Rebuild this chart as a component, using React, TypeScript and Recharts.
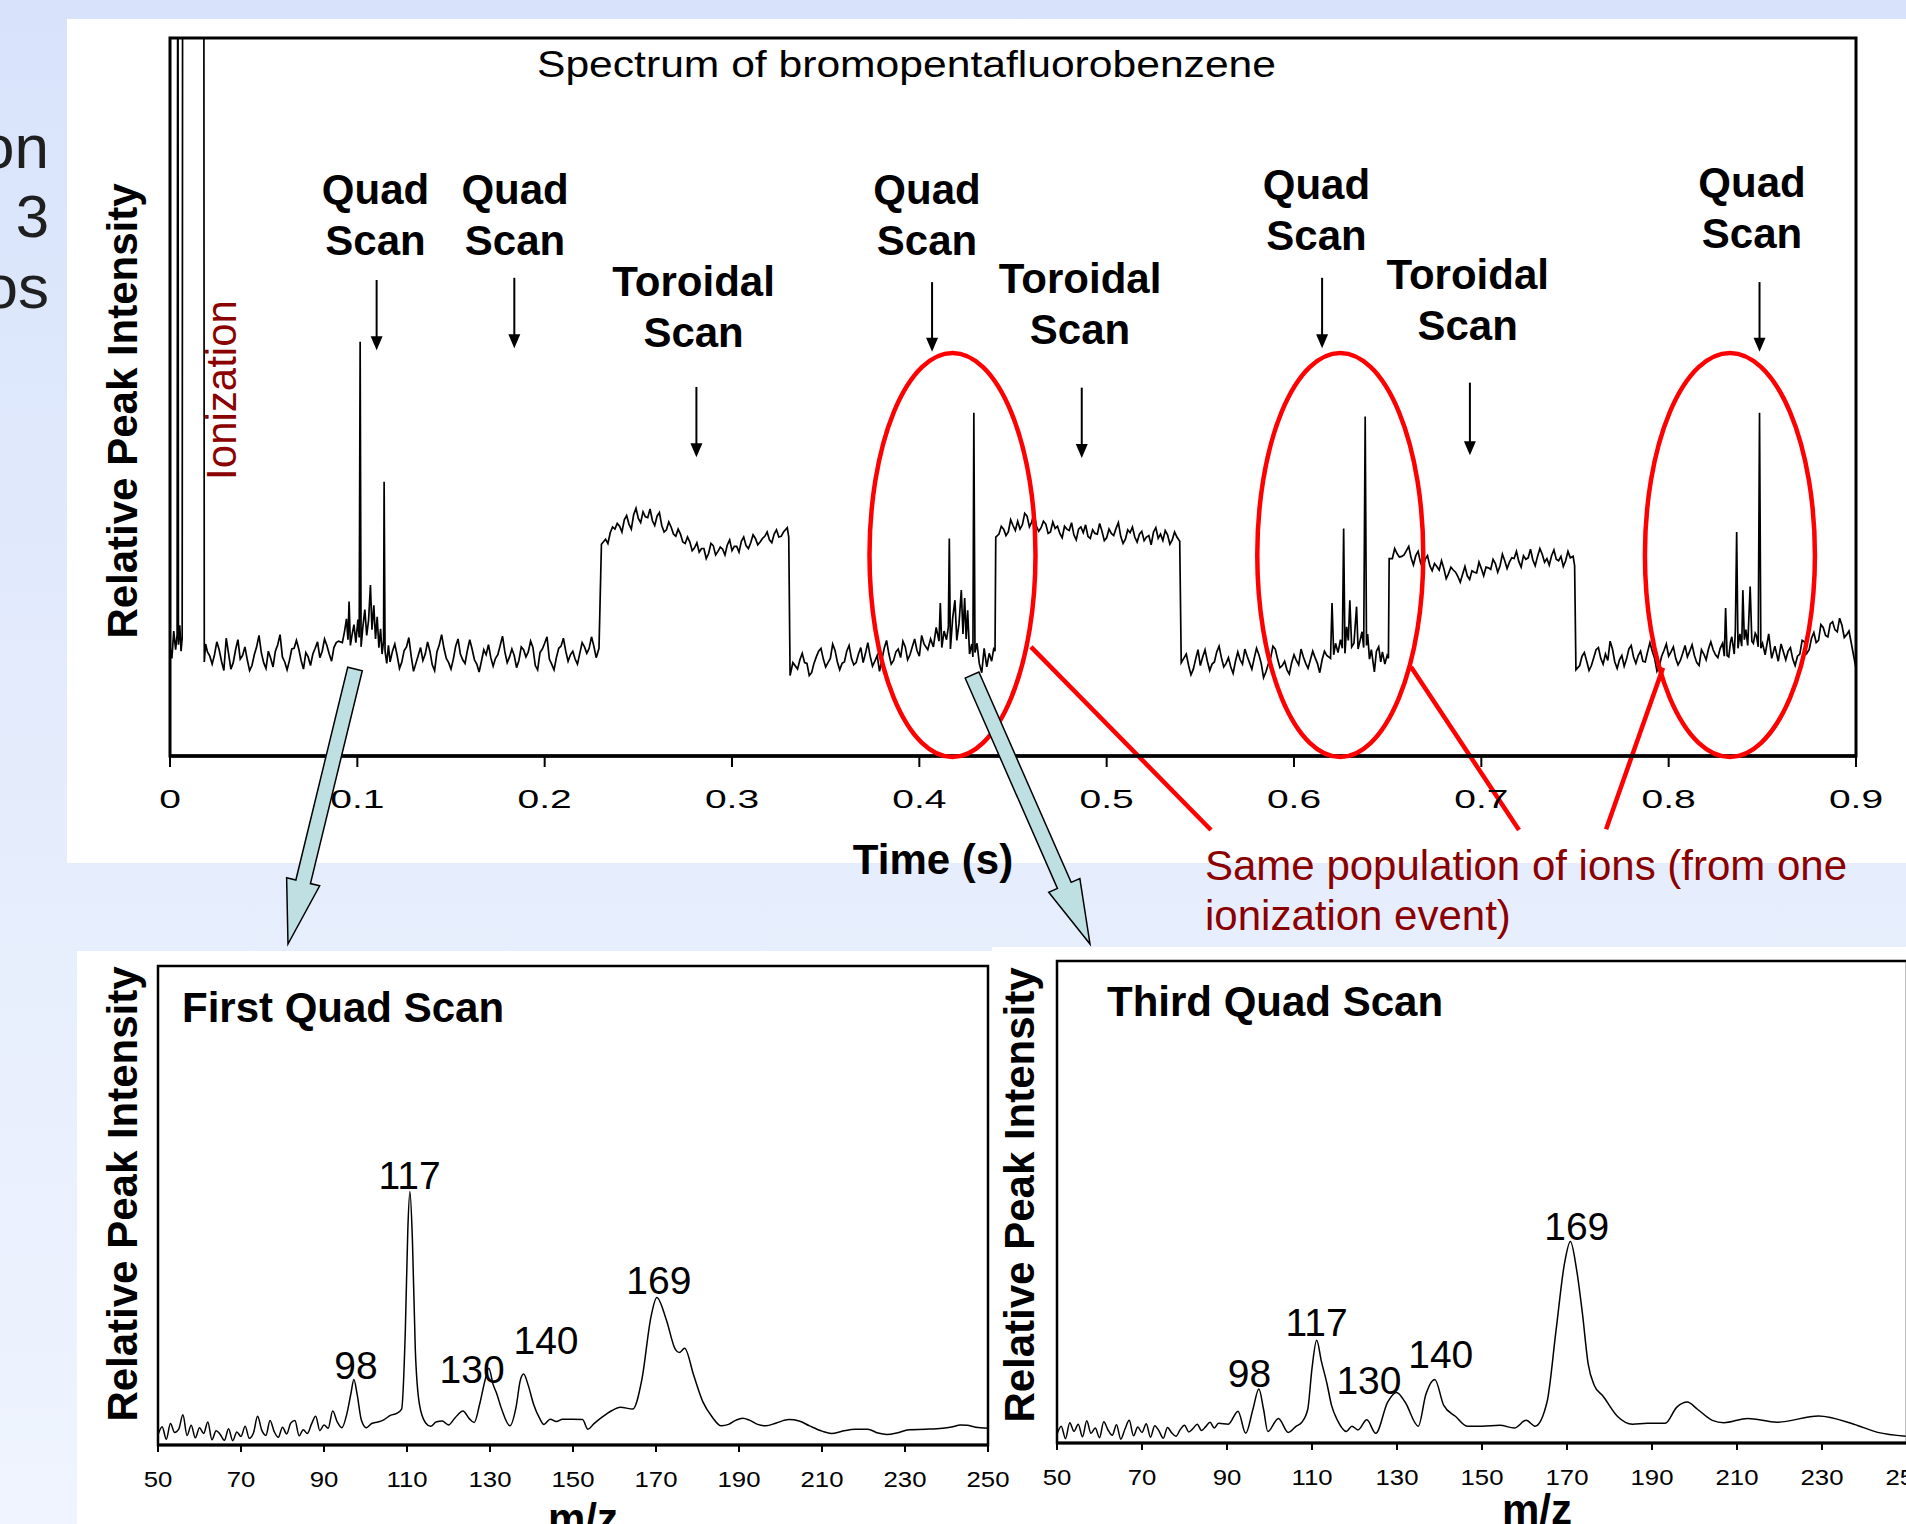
import React from "react";
import {
  LineChart,
  Line,
  XAxis,
  YAxis,
  ReferenceArea,
  ReferenceDot,
  ReferenceLine,
} from "recharts";

const FONT = '"Liberation Sans", Arial, Helvetica, sans-serif';
const DARK_RED = "#8B0000";
const STEP = 0.0025;
const HALF = 0.00125;

type Pt = [number, number];

// ---------- time trace (0 = bottom of frame, 100 = top of frame) ----------
const ionization: Pt[] = [
  [0, 15.2], [0.001, 13.6], [0.002, 17.4], [0.003, 14.8], [0.0038, 16.9],
  [0.0042, 140], [0.0045, 15.5], [0.0052, 18.2], [0.0059, 14.6], [0.0065, 16.4],
  [0.0068, 140], [0.018, 140], [0.0183, 13.1], [0.019, 15.6],
];
// each flat stretch: samples every 2.5 ms plus the samples in between
const baseline1 = [14.5, 12.8, 15.9, 13.2, 16.4, 12.1, 14.8, 13.5, 15.2, 11.9, 14.1, 16.8, 13.0, 14.6, 12.4, 15.5, 13.8, 12.0, 14.9, 16.1, 13.3, 14.4, 12.6, 15.0, 13.7, 16.3, 14.2, 15.1, 16.0];
const baseline1b = [13.9, 14.1, 14.8, 11.9, 14.3, 13.0, 16.2, 14.0, 13.4, 12.6, 15.2, 14.4, 12.2, 13.6, 14.6, 16.9, 13.1, 13.3, 15.0, 14.9, 12.1, 13.8, 14.2, 15.9, 14.6, 15.4, 13.2, 15.8];
const quadScan1: Pt[] = [
  [0.092, 15.8], [0.0932, 17.4], [0.0942, 19.1], [0.095, 16.2], [0.0956, 21.5], [0.0963, 15.4],
  [0.0972, 16.9], [0.0982, 18.3], [0.0992, 15.8], [0.1003, 19.0], [0.101, 16.5], [0.1015, 57.7],
  [0.102, 15.2], [0.103, 18.1], [0.104, 20.4], [0.105, 16.8], [0.106, 18.9], [0.107, 23.8],
  [0.1078, 17.6], [0.1088, 21.0], [0.1097, 16.3], [0.1106, 19.4], [0.1115, 15.1], [0.1124, 17.7],
  [0.1132, 14.2], [0.114, 16.0], [0.1143, 38.2], [0.1148, 14.6], [0.1157, 12.9], [0.1166, 15.4],
];
const baseline2 = [13.1, 15.6, 12.2, 14.7, 16.5, 11.8, 14.0, 13.3, 15.9, 12.7, 14.5, 16.9, 13.6, 12.1, 15.3, 14.2, 12.9, 16.2, 13.4, 11.7, 14.8, 15.5, 12.5, 14.1, 16.7, 13.0, 14.9, 12.3, 15.2, 13.8, 16.0, 12.6, 14.4, 15.7, 13.5, 12.0, 15.0, 16.4, 13.2, 14.6, 12.8, 15.8, 14.3, 16.6, 13.7];
const baseline2b = [14.6, 14.0, 13.1, 15.2, 13.9, 12.9, 15.1, 14.2, 14.6, 11.9, 15.5, 15.0, 13.0, 13.5, 16.3, 13.4, 14.7, 14.9, 12.8, 13.2, 14.1, 13.7, 13.6, 15.4, 14.5, 13.8, 14.0, 13.3, 14.8, 14.5, 15.1, 12.0, 14.9, 16.6, 12.8, 13.7, 15.3, 14.6, 14.1, 13.5, 14.3, 15.2, 15.0, 15.3];
const stepUp1: Pt[] = [[0.229, 15.0], [0.2303, 29.5]];
const toroidal1 = [30.2, 31.1, 31.6, 32.0, 32.9, 32.3, 33.6, 33.1, 34.0, 33.2, 32.8, 33.4, 32.1, 31.5, 31.9, 30.6, 30.9, 29.6, 29.8, 29.0, 28.4, 28.9, 28.2, 29.3, 28.5, 28.8, 29.4, 28.6, 29.2, 29.9, 29.3, 29.7, 30.3, 29.8, 30.6, 30.1, 30.9, 30.5, 31.2];
const toroidal1b = [29.6, 31.9, 32.4, 31.2, 33.5, 31.6, 34.5, 32.5, 33.3, 34.4, 32.1, 33.9, 31.2, 32.6, 30.9, 31.6, 29.8, 30.5, 28.6, 29.7, 28.9, 27.5, 29.6, 28.0, 29.1, 28.0, 30.1, 29.2, 28.4, 30.5, 28.9, 30.8, 29.4, 30.3, 31.2, 29.7, 31.5, 30.6];
const stepDown1: Pt[] = [[0.3295, 31.8], [0.3303, 30.5], [0.331, 11.2], [0.3325, 13.0]];
const baseline3 = [12.1, 14.3, 12.9, 11.6, 13.8, 15.0, 12.4, 13.6, 14.7, 12.0, 13.1, 15.4, 12.7, 14.2, 13.0, 15.8, 12.5, 14.0, 13.4, 16.1, 12.8, 14.5, 13.7, 15.2, 14.1, 16.3, 13.9, 15.6];
const baseline3b = [13.4, 13.0, 11.2, 12.9, 14.6, 13.5, 13.0, 15.6, 13.1, 12.9, 14.6, 13.6, 13.0, 15.1, 14.3, 13.9, 13.2, 11.8, 15.0, 14.2, 13.3, 14.9, 16.0, 13.4, 15.2, 14.7, 16.8];
const quadScan3: Pt[] = [
  [0.4045, 14.8], [0.406, 16.3], [0.4075, 15.2], [0.409, 17.9], [0.4105, 16.0], [0.4112, 21.3],
  [0.412, 15.1], [0.4132, 17.4], [0.4145, 16.2], [0.4155, 18.0], [0.416, 30.3], [0.4166, 14.9],
  [0.4178, 19.2], [0.419, 21.7], [0.42, 16.1], [0.4212, 18.5], [0.4224, 23.1], [0.4233, 17.0],
  [0.4242, 22.0], [0.425, 16.3], [0.4258, 20.3], [0.4268, 14.2], [0.428, 15.6], [0.4286, 13.8],
  [0.4291, 47.8], [0.4297, 14.4], [0.4308, 15.7], [0.432, 12.9], [0.4333, 11.6], [0.4346, 15.0],
  [0.436, 12.4], [0.4373, 14.3], [0.4386, 13.2], [0.4398, 15.1], [0.4404, 14.6], [0.4408, 30.5],
];
const toroidal2 = [30.9, 31.6, 31.2, 32.1, 32.7, 32.2, 33.4, 32.6, 32.0, 31.8, 32.3, 31.2, 31.7, 31.0, 32.0, 31.4, 30.8, 31.6, 31.1, 30.6, 31.5, 30.9, 31.3, 30.4, 31.0, 31.7, 30.6, 30.2, 31.1, 30.5, 30.9, 30.0, 30.7, 31.2, 30.3, 30.0, 30.8, 30.1, 30.5];
const toroidal2b = [32.0, 30.7, 32.9, 31.4, 31.6, 33.8, 31.9, 33.9, 31.3, 32.7, 31.0, 32.6, 32.0, 30.4, 31.6, 32.5, 30.1, 31.9, 32.2, 30.3, 31.0, 32.4, 30.0, 31.6, 30.7, 32.5, 29.6, 31.5, 31.9, 29.8, 31.3, 30.5, 29.4, 31.8, 30.9, 31.4, 29.5, 31.2];
const stepDown2: Pt[] = [[0.539, 29.9], [0.5398, 13.0]];
const baseline4 = [14.2, 11.3, 13.5, 12.6, 14.8, 11.9, 13.1, 15.3, 12.4, 13.7, 11.5, 14.5, 12.8, 13.9, 12.1, 15.0, 12.9, 11.7, 13.6, 14.9, 12.3, 13.2, 11.4, 14.1, 12.7, 13.8, 12.2, 14.6, 12.9, 13.4, 14.0];
const baseline4b = [12.6, 12.1, 14.8, 13.8, 13.2, 12.8, 14.5, 13.7, 12.9, 12.4, 13.2, 13.4, 14.9, 13.0, 13.6, 14.1, 10.9, 12.8, 15.3, 13.5, 12.6, 12.0, 13.0, 13.3, 14.9, 12.9, 13.4, 13.7, 11.6, 14.6];
const quadScan4: Pt[] = [
  [0.6195, 13.6], [0.6203, 21.3], [0.6212, 14.1], [0.6222, 15.7], [0.6235, 14.4], [0.6248, 16.2],
  [0.6258, 15.0], [0.6265, 31.7], [0.6272, 14.3], [0.6281, 18.0], [0.629, 16.1], [0.6298, 21.7],
  [0.6308, 15.2], [0.632, 15.7], [0.6334, 20.8], [0.6342, 14.9], [0.6352, 16.0], [0.6363, 17.3],
  [0.6372, 15.1], [0.638, 47.3], [0.6387, 15.4], [0.6393, 17.0], [0.6403, 13.5], [0.6413, 14.8],
  [0.6429, 11.7], [0.644, 14.6], [0.6452, 15.2], [0.6463, 13.1], [0.6472, 14.5], [0.6485, 12.8],
  [0.6497, 14.0], [0.6504, 13.6], [0.6508, 27.5],
];
const toroidal3 = [27.5, 28.2, 27.8, 28.6, 27.6, 27.9, 27.0, 27.4, 26.5, 26.8, 25.9, 26.1, 25.4, 25.9, 25.0, 25.3, 25.1, 25.8, 25.5, 26.1, 26.3, 26.0, 26.8, 26.5, 27.2, 27.0, 27.5, 27.1, 27.9, 27.6, 27.3, 27.8, 28.1, 27.5, 27.9, 27.4, 27.8, 27.2, 27.6];
const toroidal3b = [28.9, 27.7, 28.0, 29.2, 26.6, 28.5, 26.1, 27.9, 25.8, 26.4, 27.2, 24.7, 26.3, 25.6, 24.2, 26.4, 24.6, 25.6, 27.0, 25.1, 26.2, 27.4, 25.6, 28.1, 26.1, 27.6, 28.5, 26.3, 27.4, 28.8, 26.5, 28.9, 27.0, 26.6, 28.7, 27.2, 26.4, 28.5];
const stepDown3: Pt[] = [[0.749, 27.8], [0.7498, 26.5], [0.7505, 12.0]];
const baseline5 = [12.6, 14.4, 11.9, 13.7, 15.1, 12.8, 13.3, 14.9, 12.2, 14.0, 13.5, 15.4, 12.9, 14.6, 13.1, 15.8, 13.6, 12.5, 14.7, 13.9, 15.2, 12.7, 14.3, 13.8, 15.5, 13.0, 14.8, 13.4, 15.9, 14.1, 15.0];
const baseline5b = [13.9, 13.2, 12.6, 14.8, 13.6, 14.2, 16.0, 13.1, 13.4, 12.5, 14.9, 13.8, 14.0, 13.2, 14.5, 14.6, 11.8, 13.9, 15.6, 14.5, 13.6, 13.3, 15.4, 14.6, 14.0, 12.6, 14.2, 14.9, 14.8, 13.7];
const quadScan5: Pt[] = [
  [0.8288, 15.7], [0.8297, 13.9], [0.8304, 20.6], [0.8312, 14.0], [0.8321, 13.8], [0.833, 15.9],
  [0.8337, 16.6], [0.835, 14.2], [0.8356, 17.5], [0.8363, 31.2], [0.837, 15.0], [0.838, 17.0],
  [0.839, 15.3], [0.8396, 23.1], [0.8404, 16.2], [0.8412, 17.6], [0.8422, 15.4], [0.8435, 23.6],
  [0.8444, 16.0], [0.8452, 15.7], [0.8462, 17.1], [0.8468, 16.8], [0.8478, 15.2], [0.8485, 47.8],
  [0.8492, 15.0], [0.8501, 15.7], [0.8515, 14.1], [0.8534, 17.0], [0.855, 13.6], [0.8567, 15.3],
  [0.8585, 13.2], [0.86, 15.6],
];
const tail = [13.4, 15.1, 12.6, 14.2, 15.9, 14.8, 17.2, 16.1, 17.9, 16.6, 18.7, 17.3, 18.2, 16.9, 15.7];
const tailb = [14.6, 13.5, 13.9, 16.1, 14.3, 16.4, 15.8, 18.3, 16.8, 18.4, 17.6, 19.2, 16.5, 17.4];
const traceEnd: Pt[] = [[0.9, 12.2]];

const sampled = (t0: number, values: number[]): Pt[] =>
  values.map((v, i) => [Number((t0 + i * STEP).toFixed(5)), v]);

const trace = [
  ...ionization,
  ...sampled(0.02, baseline1),
  ...sampled(0.02 + HALF, baseline1b),
  ...quadScan1,
  ...sampled(0.1175, baseline2),
  ...sampled(0.1175 + HALF, baseline2b),
  ...stepUp1,
  ...sampled(0.2325, toroidal1),
  ...sampled(0.2325 + HALF, toroidal1b),
  ...stepDown1,
  ...sampled(0.335, baseline3),
  ...sampled(0.335 + HALF, baseline3b),
  ...quadScan3,
  ...sampled(0.4425, toroidal2),
  ...sampled(0.4425 + HALF, toroidal2b),
  ...stepDown2,
  ...sampled(0.5425, baseline4),
  ...sampled(0.5425 + HALF, baseline4b),
  ...quadScan4,
  ...sampled(0.6525, toroidal3),
  ...sampled(0.6525 + HALF, toroidal3b),
  ...stepDown3,
  ...sampled(0.7525, baseline5),
  ...sampled(0.7525 + HALF, baseline5b),
  ...quadScan5,
  ...sampled(0.8625, tail),
  ...sampled(0.8625 + HALF, tailb),
  ...traceEnd,
]
  .sort((a, b) => a[0] - b[0])
  .map(([t, v]) => ({ t, v }));

const TIME_TICKS = [0, 0.1, 0.2, 0.3, 0.4, 0.5, 0.6, 0.7, 0.8, 0.9];

// ---------- mass spectra ----------
const firstNoise = [2.1, 3.8, 1.2, 4.5, 2.6, 3.3, 6.3, 2.0, 4.1, 1.5, 3.6, 2.4, 4.8, 1.1, 3.0, 2.2, 1.0, 3.4, 0.9, 2.7, 1.8, 3.9, 1.4, 2.5, 6.0, 3.1, 2.0, 5.1, 2.8, 1.6, 3.7, 2.3, 4.6, 5.1, 1.9, 3.2, 2.4, 4.4, 6.0, 3.0, 4.2, 3.5];
const firstPeaks: Pt[] = [
  [92.1, 7.1], [93.2, 4.8], [94.3, 3.6], [95.5, 6.5], [96.5, 10.8], [97.2, 13.7], [98.0, 10.5],
  [99.0, 5.2], [100.2, 3.6], [101.5, 4.5], [103.0, 4.8], [104.5, 5.3], [106.0, 6.2], [107.5, 6.6],
  [108.7, 7.5], [109.6, 24.0], [110.2, 45.0], [110.7, 52.9], [111.3, 43.0], [112.0, 20.0],
  [113.0, 8.5], [114.5, 4.6], [115.7, 3.9], [117.0, 4.8], [118.5, 5.0], [120.0, 4.2], [121.5, 5.6],
  [123.5, 7.1], [125.0, 5.5], [126.2, 4.7], [127.5, 8.5], [128.8, 13.5], [129.7, 16.0],
  [130.8, 12.5], [131.5, 11.0], [132.8, 7.5], [134.8, 4.0], [136.3, 8.0], [137.3, 13.5],
  [138.1, 14.8], [139.2, 12.5], [140.5, 8.5], [142.0, 5.5], [143.0, 4.3], [144.5, 5.4],
  [146.0, 4.9], [147.5, 5.4], [150.0, 5.4], [152.3, 5.3], [153.6, 3.3], [155.0, 4.4], [157.0, 5.8],
  [159.2, 7.1], [161.4, 7.9], [164.4, 7.5], [166.6, 13.7], [168.8, 26.8], [170.2, 30.8],
  [172.5, 26.1], [174.7, 19.9], [175.6, 19.3], [176.9, 20.2], [179.1, 14.5], [181.3, 9.0],
  [183.5, 5.9], [185.7, 4.0], [187.5, 4.3], [189.3, 5.2], [190.9, 5.6], [192.5, 5.2], [194.5, 4.3],
  [196.5, 4.0], [199.0, 4.6], [202.0, 5.3], [204.5, 5.0], [207.0, 4.0], [210.0, 2.9], [212.3, 2.4],
  [215.0, 2.9], [218.0, 3.3], [221.0, 3.3], [223.5, 2.5], [225.6, 2.2], [228.0, 2.5], [231.0, 3.2],
  [235.0, 3.3], [239.0, 3.5], [241.5, 3.8], [243.3, 4.2], [245.0, 4.1], [247.0, 3.7], [250.0, 3.5],
];
const thirdNoise = [1.8, 3.5, 0.9, 4.2, 2.4, 3.9, 1.3, 4.6, 2.0, 3.1, 1.1, 4.4, 2.7, 1.6, 3.8, 0.8, 2.9, 4.7, 1.5, 3.3, 2.2, 4.0, 1.2, 3.6, 2.5, 1.0, 3.2, 2.1, 1.4, 2.8, 3.7, 2.3, 3.0, 3.9, 2.6, 3.4, 4.3, 3.1, 4.1];
const thirdPeaks: Pt[] = [
  [90.3, 3.9], [92.6, 6.6], [94.4, 2.0], [96.1, 7.0], [97.5, 11.2], [98.6, 7.0], [99.6, 2.4],
  [102.1, 5.1], [104.4, 2.2], [106.3, 3.5], [107.6, 4.3], [109.0, 7.0], [110.0, 15.5],
  [111.1, 21.3], [112.2, 17.0], [113.5, 12.4], [114.6, 7.8], [116.0, 4.7], [118.1, 2.4],
  [119.4, 3.5], [120.8, 2.7], [122.9, 4.8], [125.0, 2.0], [127.8, 8.5], [129.9, 10.5],
  [131.9, 8.5], [135.0, 3.5], [136.8, 10.1], [138.9, 13.2], [141.0, 7.8], [143.8, 5.5],
  [146.5, 3.5], [150.0, 3.5], [154.2, 3.7], [157.6, 3.1], [160.4, 4.7], [162.5, 3.5], [165.3, 8.5],
  [167.4, 23.2], [169.4, 37.2], [170.8, 41.8], [172.2, 36.3], [173.6, 27.1], [175.0, 16.3],
  [176.4, 12.0], [178.5, 9.7], [181.9, 5.5], [185.4, 3.9], [188.9, 4.1], [193.1, 4.1],
  [195.8, 7.4], [198.3, 8.5], [200.7, 7.0], [204.2, 4.7], [206.9, 4.2], [212.5, 5.1],
  [219.4, 4.3], [229.2, 5.6], [237.5, 3.9], [243.1, 2.2], [249.7, 1.4],
];

const toSpectrum = (noise: number[], peaks: Pt[]) =>
  [...noise.map((v, i) => [50 + i, v] as Pt), ...peaks]
    .sort((a, b) => a[0] - b[0])
    .map(([mz, v]) => ({ mz, v }));

const firstScan = toSpectrum(firstNoise, firstPeaks);
const thirdScan = toSpectrum(thirdNoise, thirdPeaks);

const MZ_TICKS = [50, 70, 90, 110, 130, 150, 170, 190, 210, 230, 250];

const firstLabels = [
  { text: "98", mz: 97.7, v: 13.7 },
  { text: "117", mz: 110.6, v: 53.5 },
  { text: "130", mz: 125.7, v: 12.9 },
  { text: "140", mz: 143.5, v: 19.0 },
  { text: "169", mz: 170.7, v: 31.6 },
];
const thirdLabels = [
  { text: "98", mz: 95.3, v: 11.6 },
  { text: "117", mz: 111.1, v: 22.1 },
  { text: "130", mz: 123.4, v: 10.1 },
  { text: "140", mz: 140.3, v: 15.5 },
  { text: "169", mz: 172.3, v: 42.2 },
];

// ---------- annotations on the time trace ----------
const scanLabels = [
  { t: 0.1097, v: 76.9, lines: ["Quad", "Scan"] },
  { t: 0.1842, v: 76.9, lines: ["Quad", "Scan"] },
  { t: 0.2795, v: 64.1, lines: ["Toroidal", "Scan"] },
  { t: 0.4041, v: 76.9, lines: ["Quad", "Scan"] },
  { t: 0.4858, v: 64.5, lines: ["Toroidal", "Scan"] },
  { t: 0.612, v: 77.6, lines: ["Quad", "Scan"] },
  { t: 0.6927, v: 65.0, lines: ["Toroidal", "Scan"] },
  { t: 0.8445, v: 77.9, lines: ["Quad", "Scan"] },
];
const scanArrows = [
  { t: 0.1103, from: 66.3, to: 56.5 },
  { t: 0.1838, from: 66.6, to: 56.8 },
  { t: 0.281, from: 51.4, to: 41.6 },
  { t: 0.4068, from: 66.0, to: 56.3 },
  { t: 0.4867, from: 51.3, to: 41.5 },
  { t: 0.615, from: 66.6, to: 56.8 },
  { t: 0.6939, from: 52.0, to: 41.9 },
  { t: 0.8485, from: 66.0, to: 56.3 },
];
const rings = [
  { t: 0.4177, v: 28, rx: 83 },
  { t: 0.6247, v: 28, rx: 83 },
  { t: 0.8327, v: 28, rx: 85 },
];
const pointers = [
  { from: [0.4596, 15.2], to: [0.5557, -10.3] },
  { from: [0.6625, 12.4], to: [0.7201, -10.3] },
  { from: [0.797, 12.3], to: [0.7666, -10.2] },
];

const TimeTick = (props: any) => {
  const { x, y, payload } = props;
  return (
    <g transform={`translate(${x},${y + 41}) scale(1.5,1)`}>
      <text x={0} y={0} textAnchor="middle" fontSize={26} fontFamily={FONT} fill="#000">
        {String(payload.value)}
      </text>
    </g>
  );
};

const MzTick = (props: any) => {
  const { x, y, payload } = props;
  return (
    <g transform={`translate(${x},${y + 35}) scale(1.17,1)`}>
      <text x={0} y={0} textAnchor="middle" fontSize={22} fontFamily={FONT} fill="#000">
        {String(payload.value)}
      </text>
    </g>
  );
};

function blockArrow(tail: Pt, tip: Pt, shaft: number, head: number, headLen: number) {
  const dx = tip[0] - tail[0];
  const dy = tip[1] - tail[1];
  const len = Math.hypot(dx, dy);
  const ux = dx / len;
  const uy = dy / len;
  const nx = -uy;
  const ny = ux;
  const bx = tip[0] - ux * headLen;
  const by = tip[1] - uy * headLen;
  const pts = [
    [tail[0] + nx * shaft, tail[1] + ny * shaft],
    [bx + nx * shaft, by + ny * shaft],
    [bx + nx * head, by + ny * head],
    [tip[0], tip[1]],
    [bx - nx * head, by - ny * head],
    [bx - nx * shaft, by - ny * shaft],
    [tail[0] - nx * shaft, tail[1] - ny * shaft],
  ];
  return pts.map((p) => p.join(",")).join(" ");
}

function TimeChart() {
  return (
    <LineChart
      width={1839}
      height={844}
      data={trace}
      margin={{ top: 19, right: 50, bottom: 67, left: 103 }}
    >
      <XAxis
        type="number"
        dataKey="t"
        domain={[0, 0.9]}
        ticks={TIME_TICKS}
        interval={0}
        tickSize={11}
        tickMargin={0}
        tickLine={{ stroke: "#000", strokeWidth: 2 }}
        axisLine={{ stroke: "#000", strokeWidth: 3.5 }}
        tick={TimeTick}
        height={40}
        allowDataOverflow
      />
      <YAxis type="number" domain={[0, 100]} hide allowDataOverflow />
      <ReferenceArea x1={0} x2={0.9} y1={0} y2={100} fill="none" stroke="#000" strokeWidth={3} />
      <Line
        type="linear"
        dataKey="v"
        stroke="#000"
        strokeWidth={1.7}
        dot={false}
        isAnimationActive={false}
      />
      {scanArrows.map((a, i) => (
        <ReferenceLine
          key={`arrow-${i}`}
          segment={[{ x: a.t, y: a.from }, { x: a.t, y: a.to }]}
          ifOverflow="visible"
          shape={(p: any) => (
            <g>
              <line x1={p.x1} y1={p.y1} x2={p.x2} y2={p.y2 - 12} stroke="#000" strokeWidth={2} />
              <polygon
                points={`${p.x2 - 6},${p.y2 - 14} ${p.x2 + 6},${p.y2 - 14} ${p.x2},${p.y2}`}
                fill="#000"
              />
            </g>
          )}
        />
      ))}
      {scanLabels.map((l, i) => (
        <ReferenceDot
          key={`label-${i}`}
          x={l.t}
          y={l.v}
          r={0}
          ifOverflow="visible"
          shape={(p: any) => (
            <text
              x={p.cx}
              y={p.cy}
              textAnchor="middle"
              fontSize={42}
              fontWeight="bold"
              fontFamily={FONT}
              fill="#000"
            >
              <tspan x={p.cx}>{l.lines[0]}</tspan>
              <tspan x={p.cx} dy={51}>
                {l.lines[1]}
              </tspan>
            </text>
          )}
        />
      ))}
      {pointers.map((s, i) => (
        <ReferenceLine
          key={`pointer-${i}`}
          segment={[
            { x: s.from[0], y: s.from[1] },
            { x: s.to[0], y: s.to[1] },
          ]}
          ifOverflow="visible"
          stroke="#FF0000"
          strokeWidth={4.5}
        />
      ))}
      {rings.map((r, i) => (
        <ReferenceDot
          key={`ring-${i}`}
          x={r.t}
          y={r.v}
          r={0}
          ifOverflow="visible"
          shape={(p: any) => (
            <ellipse cx={p.cx} cy={p.cy} rx={r.rx} ry={202} fill="none" stroke="#FF0000" strokeWidth={4.5} />
          )}
        />
      ))}
    </LineChart>
  );
}

function SpectrumChart({
  data,
  labels,
  width,
  height,
  margin,
}: {
  data: { mz: number; v: number }[];
  labels: { text: string; mz: number; v: number }[];
  width: number;
  height: number;
  margin: { top: number; right: number; bottom: number; left: number };
}) {
  return (
    <LineChart width={width} height={height} data={data} margin={margin}>
      <XAxis
        type="number"
        dataKey="mz"
        domain={[50, 250]}
        ticks={MZ_TICKS}
        interval={0}
        tickSize={7}
        tickMargin={0}
        tickLine={{ stroke: "#000", strokeWidth: 2 }}
        axisLine={{ stroke: "#000", strokeWidth: 3 }}
        tick={MzTick}
        height={40}
        allowDataOverflow
      />
      <YAxis type="number" domain={[0, 100]} hide allowDataOverflow />
      <ReferenceArea x1={50} x2={250} y1={0} y2={100} fill="none" stroke="#000" strokeWidth={2.5} />
      <Line
        type="monotone"
        dataKey="v"
        stroke="#000"
        strokeWidth={1.5}
        dot={false}
        isAnimationActive={false}
      />
      {labels.map((l, i) => (
        <ReferenceDot
          key={`peak-${i}`}
          x={l.mz}
          y={l.v}
          r={0}
          ifOverflow="visible"
          shape={(p: any) => (
            <text x={p.cx} y={p.cy} textAnchor="middle" fontSize={39} fontFamily={FONT} fill="#000">
              {l.text}
            </text>
          )}
        />
      ))}
    </LineChart>
  );
}

const abs = (left: number, top: number, width: number, height: number, extra = {}) => ({
  position: "absolute" as const,
  left,
  top,
  width,
  height,
  ...extra,
});

export default function App() {
  return (
    <div
      style={{
        position: "absolute",
        left: 0,
        top: 0,
        width: 1906,
        height: 1524,
        overflow: "hidden",
        background: "linear-gradient(180deg, #D8E3FB 0%, #E4ECFC 50%, #EFF4FE 100%)",
        fontFamily: FONT,
      }}
    >
      {/* white panels */}
      <div style={abs(67, 19, 1839, 844, { background: "#fff" })} />
      <div style={abs(77, 951, 915, 573, { background: "#fff" })} />
      <div style={abs(992, 947, 914, 577, { background: "#fff" })} />

      <div style={abs(67, 19, 1839, 844)}>
        <TimeChart />
      </div>
      <div style={abs(992, 947, 940, 577)}>
        <SpectrumChart
          data={thirdScan}
          labels={thirdLabels}
          width={940}
          height={577}
          margin={{ top: 14, right: 25, bottom: 41, left: 65 }}
        />
      </div>
      <div style={abs(77, 951, 940, 573)}>
        <SpectrumChart
          data={firstScan}
          labels={firstLabels}
          width={940}
          height={573}
          margin={{ top: 15, right: 29, bottom: 39, left: 81 }}
        />
      </div>

      <svg width={1906} height={1524} style={abs(0, 0, 1906, 1524, { pointerEvents: "none" })} fontFamily={FONT}>
        <text x={49} y={168} textAnchor="end" fontSize={62} fill="#1f1f1f">on</text>
        <text x={49} y={237} textAnchor="end" fontSize={60} fill="#1f1f1f">3</text>
        <text x={49} y={308} textAnchor="end" fontSize={62} fill="#1f1f1f">os</text>

        <text x={537} y={77} fontSize={36} textLength={739} lengthAdjust="spacingAndGlyphs" fill="#000">
          Spectrum of bromopentafluorobenzene
        </text>
        <text transform="translate(137,411) rotate(-90)" textAnchor="middle" fontSize={42} fontWeight="bold" fill="#000">
          Relative Peak Intensity
        </text>
        <text transform="translate(236,390) rotate(-90)" textAnchor="middle" fontSize={42} fill={DARK_RED}>
          Ionization
        </text>
        <text x={933} y={874} textAnchor="middle" fontSize={42} fontWeight="bold" fill="#000">
          Time (s)
        </text>
        <text x={1205} y={880} fontSize={42} fill={DARK_RED}>
          Same population of ions (from one
        </text>
        <text x={1205} y={930} fontSize={42} fill={DARK_RED}>
          ionization event)
        </text>

        <text x={182} y={1022} fontSize={42} fontWeight="bold" fill="#000">First Quad Scan</text>
        <text x={1107} y={1016} fontSize={42} fontWeight="bold" fill="#000">Third Quad Scan</text>
        <text transform="translate(137,1194) rotate(-90)" textAnchor="middle" fontSize={42} fontWeight="bold" fill="#000">
          Relative Peak Intensity
        </text>
        <text transform="translate(1034,1195) rotate(-90)" textAnchor="middle" fontSize={42} fontWeight="bold" fill="#000">
          Relative Peak Intensity
        </text>
        <text x={583} y={1533} textAnchor="middle" fontSize={42} fontWeight="bold" fill="#000">m/z</text>
        <text x={1537} y={1524} textAnchor="middle" fontSize={42} fontWeight="bold" fill="#000">m/z</text>

        <polygon points={blockArrow([355, 669], [288, 944], 7.5, 17, 64)} fill="#BEE0E3" stroke="#000" strokeWidth={1.5} />
        <polygon points={blockArrow([972, 675], [1090, 944], 7.5, 17, 64)} fill="#BEE0E3" stroke="#000" strokeWidth={1.5} />
      </svg>
    </div>
  );
}
